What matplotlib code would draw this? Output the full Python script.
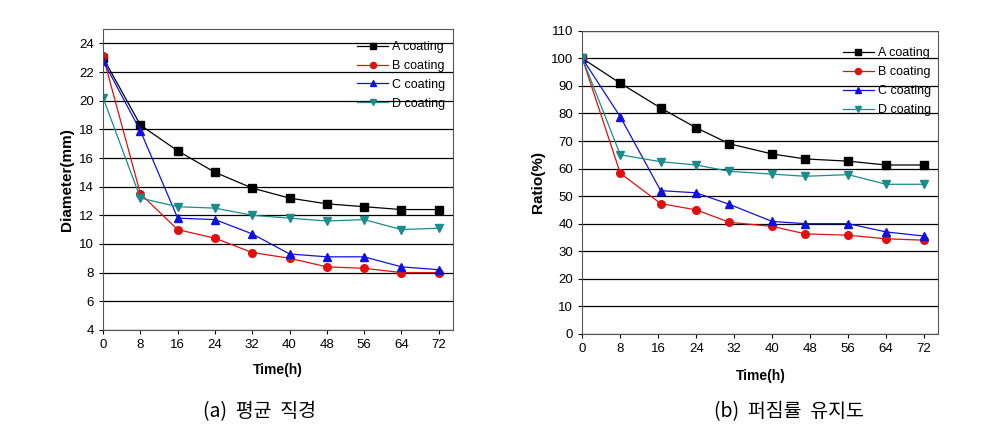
import matplotlib
matplotlib.use("Agg")
import matplotlib.pyplot as plt

plt.rcParams['font.family'] = ['Liberation Sans', 'DejaVu Sans']

# data
time_a = [0, 8, 16, 24, 32, 40, 48, 56, 64, 72]
dia_A = [23.0, 18.3, 16.5, 15.0, 13.9, 13.2, 12.8, 12.6, 12.4, 12.4]
dia_B = [23.1, 13.5, 11.0, 10.4, 9.4, 9.0, 8.4, 8.3, 8.0, 8.0]
dia_C = [22.8, 17.9, 11.8, 11.7, 10.7, 9.3, 9.1, 9.1, 8.4, 8.2]
dia_D = [20.2, 13.2, 12.6, 12.5, 12.0, 11.8, 11.6, 11.7, 11.0, 11.1]

time_b = [0, 8, 16.5, 24, 31, 40, 47, 56, 64, 72]
ratio_A = [100, 91, 82, 74.8, 69, 65.3, 63.5, 62.7, 61.3, 61.3]
ratio_B = [100, 58.3, 47.3, 45, 40.5, 39, 36.3, 35.8, 34.5, 34]
ratio_C = [100, 78.8, 52, 51.2, 47, 40.8, 40, 40, 37, 35.5]
ratio_D = [100, 65, 62.5, 61.3, 59, 58, 57.2, 57.8, 54.3, 54.3]

labels = ["A coating", "B coating", "C coating", "D coating"]
colors = ["black", "#e01010", "#1010e0", "#1a8c8c"]
markers = ["s", "o", "^", "v"]
x_ticks = [0, 8, 16, 24, 32, 40, 48, 56, 64, 72]

fig = plt.figure(figsize=(9.82, 4.41), dpi=100)
ax1 = fig.add_axes([0.105, 0.252, 0.356, 0.682])
ax2 = fig.add_axes([0.593, 0.243, 0.3625, 0.687])

def draw(ax, t, series, ylim, yticks, ylabel, legtop):
    for y, lab, c, m in zip(series, labels, colors, markers):
        ax.plot(t, y, color=c, marker=m, markersize=5.5, linewidth=0.9, label=lab)
    ax.set_xlim(0, 75)
    ax.set_ylim(*ylim)
    ax.set_xticks(x_ticks)
    ax.set_yticks(yticks)
    ax.yaxis.grid(True, color="black", linewidth=0.9)
    ax.set_axisbelow(True)
    ax.tick_params(labelsize=9.5, length=3)
    ax.set_xlabel("Time(h)", fontsize=10, fontweight="bold")
    ax.set_ylabel(ylabel, fontsize=11, fontweight="bold")
    for s in ax.spines.values():
        s.set_color("#555555")
    ax.legend(loc="upper right", bbox_to_anchor=(1.0, legtop), frameon=False,
              fontsize=9, handlelength=2.5, markerscale=0.8, borderaxespad=0.2,
              labelspacing=0.55, handletextpad=0.3)

draw(ax1, time_a, [dia_A, dia_B, dia_C, dia_D], (4, 25), range(4, 25, 2),
     "Diameter(mm)", 0.985)
draw(ax2, time_b, [ratio_A, ratio_B, ratio_C, ratio_D], (0, 110), range(0, 111, 10),
     "Ratio(%)", 0.97)
ax1.xaxis.labelpad = 9
ax2.xaxis.labelpad = 10

fig.text(0.264, 0.055, "(a)  평균  직경", fontsize=14, ha="center",
         family=['Noto Sans CJK KR', 'DejaVu Sans'])
fig.text(0.803, 0.055, "(b)  퍼짐률  유지도", fontsize=14, ha="center",
         family=['Noto Sans CJK KR', 'DejaVu Sans'])

fig.savefig("out.png", dpi=100)
